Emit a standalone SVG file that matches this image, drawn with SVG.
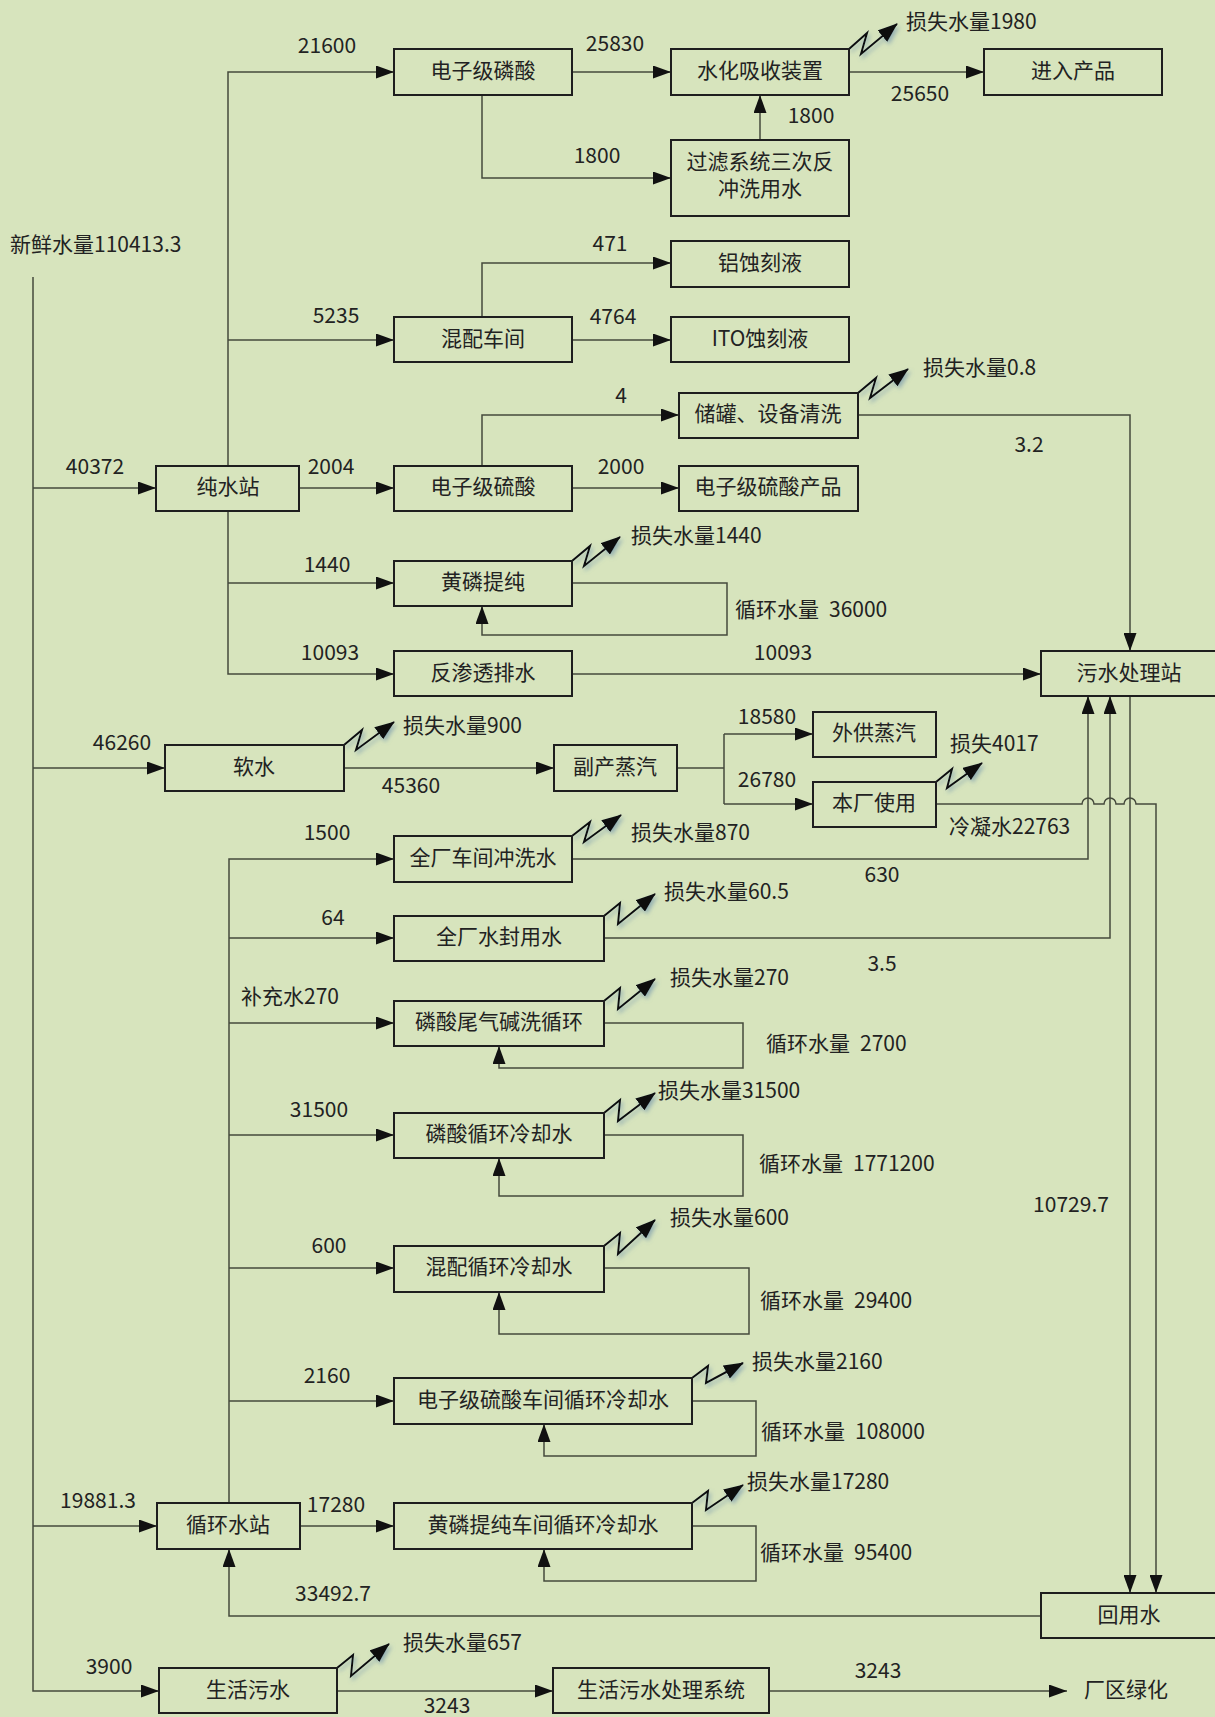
<svg xmlns="http://www.w3.org/2000/svg" width="1215" height="1717" viewBox="0 0 1215 1717">
  <style>
    .bg { fill: #d7e4bd; }
    .box rect { fill: #d7e4bd; stroke: #1e1e1e; stroke-width: 2; }
    text { font-family: "Noto Sans CJK SC", "Liberation Sans", sans-serif; font-size: 21px; fill: #222; dominant-baseline: central; }
    .box text { text-anchor: middle; }
    .c { text-anchor: middle; }
    .ln { fill: none; stroke: #454a3c; stroke-width: 1.5; }
    .arw { marker-end: url(#ah); }
    .bolt { fill: none; stroke: #111; stroke-width: 2; marker-end: url(#bh); filter: url(#glow); }
  </style>
  <defs>
    <marker id="ah" viewBox="0 0 18 13" refX="18" refY="6.5" markerWidth="18" markerHeight="13" markerUnits="userSpaceOnUse" orient="auto">
      <path d="M0,0 L18,6.5 L0,13 z" fill="#111"/>
    </marker>
    <marker id="bh" viewBox="0 0 20 15" refX="19" refY="7.5" markerWidth="20" markerHeight="15" markerUnits="userSpaceOnUse" orient="auto">
      <path d="M0,0 L20,7.5 L0,15 z" fill="#111"/>
    </marker>
    <filter id="glow" x="-30%" y="-30%" width="160%" height="160%">
      <feDropShadow dx="2" dy="3" stdDeviation="2" flood-color="#5f86a8" flood-opacity="0.55"/>
    </filter>
  </defs>

  <rect class="bg" x="0" y="0" width="1215" height="1717"/>

  <!-- connectors -->
  <g id="connectors">
    <!-- fresh-water trunk -->
    <path class="ln arw" d="M33,277 V1691 H159"/>
    <path class="ln arw" d="M33,488 H156"/>
    <path class="ln arw" d="M33,768 H165"/>
    <path class="ln arw" d="M33,1526 H157"/>

    <!-- pure-water station branches -->
    <path class="ln arw" d="M228,466 V72 H394"/>
    <path class="ln arw" d="M228,340 H394"/>
    <path class="ln arw" d="M228,511 V674 H394"/>
    <path class="ln arw" d="M228,583 H394"/>
    <path class="ln arw" d="M299,488 H394"/>

    <!-- phosphoric acid line -->
    <path class="ln arw" d="M572,72 H671"/>
    <path class="ln arw" d="M849,72 H984"/>
    <path class="ln arw" d="M482,95 V178 H671"/>
    <path class="ln arw" d="M760,140 V95"/>

    <!-- blending workshop -->
    <path class="ln arw" d="M482,317 V263 H671"/>
    <path class="ln arw" d="M572,340 H671"/>

    <!-- sulfuric acid -->
    <path class="ln arw" d="M482,466 V415 H679"/>
    <path class="ln arw" d="M572,488 H679"/>
    <path class="ln arw" d="M858,415 H1130 V651"/>

    <!-- yellow phosphorus loop -->
    <path class="ln arw" d="M572,583 H727 V635 H482 V606"/>

    <!-- RO reject -->
    <path class="ln arw" d="M572,674 H1041"/>

    <!-- soft water / steam -->
    <path class="ln arw" d="M344,768 H554"/>
    <path class="ln" d="M677,768 H724 M724,734 V804"/>
    <path class="ln arw" d="M724,734 H813"/>
    <path class="ln arw" d="M724,804 H813"/>
    <path class="ln arw" d="M936,804 H1082 a6,6 0 0 1 12,0 H1104 a6,6 0 0 1 12,0 H1124 a6,6 0 0 1 12,0 H1156 V1593"/>

    <!-- wastewater station to reuse -->
    <path class="ln arw" d="M1130,696 V1593"/>
    <path class="ln arw" d="M572,859 H1088 V696"/>
    <path class="ln arw" d="M604,938 H1110 V696"/>

    <!-- circulating-water station branches -->
    <path class="ln arw" d="M229,1503 V859 H394"/>
    <path class="ln arw" d="M229,938 H394"/>
    <path class="ln arw" d="M229,1023 H394"/>
    <path class="ln arw" d="M229,1135 H394"/>
    <path class="ln arw" d="M229,1268 H394"/>
    <path class="ln arw" d="M229,1401 H394"/>
    <path class="ln arw" d="M300,1526 H394"/>

    <!-- recirculation loops -->
    <path class="ln arw" d="M604,1023 H743 V1068 H499 V1046"/>
    <path class="ln arw" d="M604,1135 H743 V1196 H499 V1158"/>
    <path class="ln arw" d="M604,1268 H749 V1334 H499 V1292"/>
    <path class="ln arw" d="M692,1401 H756 V1456 H544 V1424"/>
    <path class="ln arw" d="M692,1526 H756 V1581 H544 V1549"/>

    <!-- reuse return -->
    <path class="ln arw" d="M1041,1616 H229 V1549"/>

    <!-- domestic sewage -->
    <path class="ln arw" d="M337,1691 H553"/>
    <path class="ln arw" d="M769,1691 H1067"/>

    <!-- loss arrows -->
    <path class="bolt" d="M849,49 l18,-16 l-6,21 l36,-30"/>
    <path class="bolt" d="M858,393 l18,-15 l-6,20 l38,-29"/>
    <path class="bolt" d="M572,561 l18,-15 l-6,20 l36,-29"/>
    <path class="bolt" d="M344,745 l18,-15 l-6,20 l38,-28"/>
    <path class="bolt" d="M936,782 l16,-13 l-5,19 l35,-25"/>
    <path class="bolt" d="M572,836 l18,-14 l-6,20 l37,-27"/>
    <path class="bolt" d="M604,916 l16,-13 l-2,21 l37,-30"/>
    <path class="bolt" d="M604,1001 l16,-13 l-2,21 l37,-30"/>
    <path class="bolt" d="M604,1113 l16,-13 l-2,21 l37,-28"/>
    <path class="bolt" d="M604,1246 l16,-13 l-2,21 l37,-34"/>
    <path class="bolt" d="M692,1378 l16,-12 l-2,17 l37,-20"/>
    <path class="bolt" d="M692,1503 l16,-12 l-2,19 l37,-25"/>
    <path class="bolt" d="M337,1668 l16,-13 l-2,21 l38,-32"/>
  </g>

  <!-- flow labels -->
  <g id="labels">
    <text x="10" y="243">新鲜水量110413.3</text>
    <text class="c" x="327" y="44">21600</text>
    <text class="c" x="615" y="42">25830</text>
    <text x="906" y="20">损失水量1980</text>
    <text class="c" x="920" y="92">25650</text>
    <text class="c" x="811" y="114">1800</text>
    <text class="c" x="597" y="154">1800</text>
    <text class="c" x="610" y="242">471</text>
    <text class="c" x="336" y="314">5235</text>
    <text class="c" x="613" y="315">4764</text>
    <text x="923" y="366">损失水量0.8</text>
    <text class="c" x="621" y="394">4</text>
    <text class="c" x="1029" y="443">3.2</text>
    <text class="c" x="95" y="465">40372</text>
    <text class="c" x="331" y="465">2004</text>
    <text class="c" x="621" y="465">2000</text>
    <text x="631" y="534">损失水量1440</text>
    <text class="c" x="327" y="563">1440</text>
    <text x="735" y="608">循环水量<tspan dx="10">36000</tspan></text>
    <text class="c" x="330" y="651">10093</text>
    <text class="c" x="783" y="651">10093</text>
    <text class="c" x="767" y="715">18580</text>
    <text x="403" y="724">损失水量900</text>
    <text class="c" x="122" y="741">46260</text>
    <text x="950" y="742">损失4017</text>
    <text class="c" x="767" y="778">26780</text>
    <text class="c" x="411" y="784">45360</text>
    <text x="949" y="825">冷凝水22763</text>
    <text class="c" x="327" y="831">1500</text>
    <text x="631" y="831">损失水量870</text>
    <text class="c" x="882" y="873">630</text>
    <text x="664" y="890">损失水量60.5</text>
    <text class="c" x="333" y="916">64</text>
    <text class="c" x="882" y="962">3.5</text>
    <text x="670" y="976">损失水量270</text>
    <text class="c" x="290" y="995">补充水270</text>
    <text x="766" y="1042">循环水量<tspan dx="10">2700</tspan></text>
    <text x="658" y="1089">损失水量31500</text>
    <text class="c" x="319" y="1108">31500</text>
    <text x="759" y="1162">循环水量<tspan dx="10">1771200</tspan></text>
    <text class="c" x="1071" y="1203">10729.7</text>
    <text x="670" y="1216">损失水量600</text>
    <text class="c" x="329" y="1244">600</text>
    <text x="760" y="1299">循环水量<tspan dx="10">29400</tspan></text>
    <text x="752" y="1360">损失水量2160</text>
    <text class="c" x="327" y="1374">2160</text>
    <text x="761" y="1430">循环水量<tspan dx="10">108000</tspan></text>
    <text x="747" y="1480">损失水量17280</text>
    <text class="c" x="98" y="1499">19881.3</text>
    <text class="c" x="336" y="1503">17280</text>
    <text x="760" y="1551">循环水量<tspan dx="10">95400</tspan></text>
    <text class="c" x="333" y="1592">33492.7</text>
    <text x="403" y="1641">损失水量657</text>
    <text class="c" x="109" y="1665">3900</text>
    <text class="c" x="878" y="1669">3243</text>
    <text class="c" x="447" y="1704">3243</text>
    <text x="1084" y="1688">厂区绿化</text>
  </g>

  <!-- nodes -->
  <g id="n-dzjls" class="box"><rect x="394" y="49" width="178" height="46"/><text x="483" y="69">电子级磷酸</text></g>
  <g id="n-shxs" class="box"><rect x="671" y="49" width="178" height="46"/><text x="760" y="69">水化吸收装置</text></g>
  <g id="n-jrcp" class="box"><rect x="984" y="49" width="178" height="46"/><text x="1073" y="69">进入产品</text></g>
  <g id="n-glxt" class="box"><rect x="671" y="140" width="178" height="76"/><text x="760" y="160">过滤系统三次反</text><text x="760" y="187">冲洗用水</text></g>
  <g id="n-lskl" class="box"><rect x="671" y="241" width="178" height="46"/><text x="760" y="261">铝蚀刻液</text></g>
  <g id="n-ito" class="box"><rect x="671" y="317" width="178" height="45"/><text x="760" y="337">ITO蚀刻液</text></g>
  <g id="n-hpcj" class="box"><rect x="394" y="317" width="178" height="45"/><text x="483" y="337">混配车间</text></g>
  <g id="n-cgqx" class="box"><rect x="679" y="393" width="179" height="45"/><text x="768" y="412">储罐、设备清洗</text></g>
  <g id="n-csz" class="box"><rect x="156" y="466" width="143" height="45"/><text x="228" y="485">纯水站</text></g>
  <g id="n-dzjlsuan" class="box"><rect x="394" y="466" width="178" height="45"/><text x="483" y="485">电子级硫酸</text></g>
  <g id="n-lscp" class="box"><rect x="679" y="466" width="179" height="45"/><text x="768" y="485">电子级硫酸产品</text></g>
  <g id="n-hltc" class="box"><rect x="394" y="561" width="178" height="45"/><text x="483" y="580">黄磷提纯</text></g>
  <g id="n-fst" class="box"><rect x="394" y="651" width="178" height="45"/><text x="483" y="671">反渗透排水</text></g>
  <g id="n-wsclz" class="box"><rect x="1041" y="651" width="182" height="45"/><text x="1129" y="671">污水处理站</text></g>
  <g id="n-rs" class="box"><rect x="165" y="745" width="179" height="46"/><text x="254" y="765">软水</text></g>
  <g id="n-fczq" class="box"><rect x="554" y="745" width="123" height="46"/><text x="615" y="765">副产蒸汽</text></g>
  <g id="n-wgzq" class="box"><rect x="813" y="712" width="123" height="45"/><text x="874" y="731">外供蒸汽</text></g>
  <g id="n-bcsy" class="box"><rect x="813" y="782" width="123" height="45"/><text x="874" y="801">本厂使用</text></g>
  <g id="n-cjcx" class="box"><rect x="394" y="836" width="178" height="46"/><text x="483" y="856">全厂车间冲洗水</text></g>
  <g id="n-sfys" class="box"><rect x="394" y="916" width="210" height="45"/><text x="499" y="935">全厂水封用水</text></g>
  <g id="n-wqjx" class="box"><rect x="394" y="1001" width="210" height="45"/><text x="499" y="1020">磷酸尾气碱洗循环</text></g>
  <g id="n-lsxh" class="box"><rect x="394" y="1113" width="210" height="45"/><text x="499" y="1132">磷酸循环冷却水</text></g>
  <g id="n-hpxh" class="box"><rect x="394" y="1246" width="210" height="46"/><text x="499" y="1265">混配循环冷却水</text></g>
  <g id="n-lsuanxh" class="box"><rect x="394" y="1378" width="298" height="46"/><text x="543" y="1398">电子级硫酸车间循环冷却水</text></g>
  <g id="n-xhsz" class="box"><rect x="157" y="1503" width="143" height="46"/><text x="228" y="1523">循环水站</text></g>
  <g id="n-hlxh" class="box"><rect x="394" y="1503" width="298" height="46"/><text x="543" y="1523">黄磷提纯车间循环冷却水</text></g>
  <g id="n-hys" class="box"><rect x="1041" y="1593" width="182" height="45"/><text x="1129" y="1613">回用水</text></g>
  <g id="n-shws" class="box"><rect x="159" y="1668" width="178" height="45"/><text x="248" y="1688">生活污水</text></g>
  <g id="n-shwscl" class="box"><rect x="553" y="1668" width="216" height="45"/><text x="661" y="1688">生活污水处理系统</text></g>
</svg>
